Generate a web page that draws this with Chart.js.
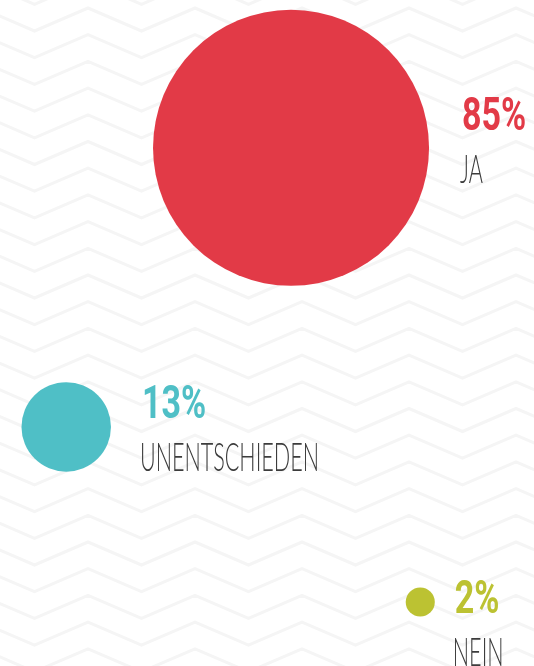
<!DOCTYPE html>
<html>
<head>
<meta charset="utf-8">
<script src="https://cdn.jsdelivr.net/npm/chart.js@4/dist/chart.umd.min.js"></script>
<style>
    html, body { margin: 0; padding: 0; background: #fff; }
    #wrap { width: 534px; height: 666px; }
</style>
</head>
<body>
<div id="wrap"><canvas id="umfrage" width="534" height="666"></canvas></div>
<script>
// Umfrage-Ergebnis
const categories = ['JA', 'UNENTSCHIEDEN', 'NEIN'];
const percents = [85, 13, 2];
const xPos = [54.5, 12.4, 78.7];   // spalte (0-100)
const yPos = [22.2, 64.1, 90.4];   // zeile (0-100, von oben)
const colors = ['#e23a47', '#4fbfc6', '#bcc232'];

// text placement next to each bubble (dx from bubble edge, dy of % baseline from center)
const labelOffsets = [
    { dx: 33, dy: -18 },
    { dx: 31, dy: -9 },
    { dx: 20, dy: 11 }
];

const zigzagBg = {
    id: 'zigzagBg',
    beforeDraw(chart) {
        const ctx = chart.ctx;
        const w = chart.width, h = chart.height;
        ctx.save();
        ctx.fillStyle = '#ffffff';
        ctx.fillRect(0, 0, w, h);
        ctx.strokeStyle = '#f5f5f5';
        ctx.lineWidth = 3;
        ctx.lineJoin = 'miter';
        const period = 107, amp = 23, rowGap = 26.7;
        for (let y0 = 8 - rowGap * 2; y0 < h + rowGap; y0 += rowGap) {
            ctx.beginPath();
            let first = true;
            for (let x = 88 - period * 2; x < w + period; x += period / 2) {
                const k = Math.round((x - 88) / (period / 2));
                const y = (k % 2 === 0) ? y0 : y0 + amp;
                if (first) { ctx.moveTo(x, y); first = false; } else { ctx.lineTo(x, y); }
            }
            ctx.stroke();
        }
        ctx.restore();
    }
};

const bubbleLabels = {
    id: 'bubbleLabels',
    afterDatasetsDraw(chart) {
        const ctx = chart.ctx;
        const meta = chart.getDatasetMeta(0);
        meta.data.forEach((el, i) => {
            const r = el.options.radius;
            const off = labelOffsets[i];
            const tx = el.x + r + off.dx;
            const by = el.y + off.dy;

            ctx.save();
            ctx.translate(tx, by);
            ctx.scale(0.74, 1);
            ctx.font = 'bold 46px Roboto';
            ctx.fillStyle = colors[i];
            ctx.textBaseline = 'alphabetic';
            ctx.textAlign = 'left';
            ctx.fillText(percents[i] + '%', 0, 0);
            ctx.restore();

            ctx.save();
            ctx.translate(tx - 2, by + 53);
            ctx.scale(0.54, 1);
            ctx.font = '300 40px Lato';
            ctx.fillStyle = '#3c3c3c';
            ctx.textBaseline = 'alphabetic';
            ctx.fillText(categories[i], 0, 0);
            ctx.restore();
        });
    }
};

const data = {
    labels: categories,
    datasets: [{
        data: percents.map((v, i) => ({ x: xPos[i], y: yPos[i], v: v })),
        backgroundColor: colors,
        borderWidth: 0,
        hoverBorderWidth: 0,
        clip: false,
        // bubble size grows with the share
        radius: (c) => 9.6 * Math.pow(c.raw.v, 0.6)
    }]
};

const config = {
    type: 'bubble',
    data,
    plugins: [zigzagBg, bubbleLabels],
    options: {
        responsive: false,
        animation: false,
        layout: { padding: 0, autoPadding: false },
        plugins: {
            legend: { display: false },
            tooltip: { enabled: false }
        },
        scales: {
            x: { type: 'linear', min: 0, max: 100, display: false },
            y: { type: 'linear', min: 0, max: 100, reverse: true, display: false }
        }
    }
};

const umfrageChart = new Chart(document.getElementById('umfrage'), config);
</script>
</body>
</html>
